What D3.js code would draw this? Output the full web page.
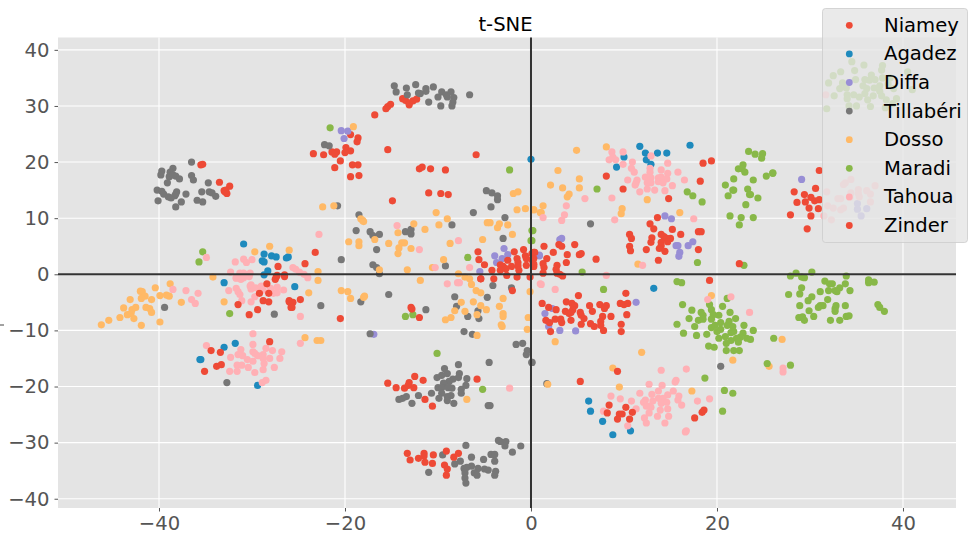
<!DOCTYPE html>
<html><head><meta charset="utf-8">
<script src="https://cdn.jsdelivr.net/npm/d3@7"></script>
<style>html,body{margin:0;padding:0;background:#fff}svg{display:block}text{font-family:"DejaVu Sans",sans-serif}</style>
</head><body><div id="c"></div>
<script>
const names=["Niamey","Agadez","Diffa","Tillabéri","Dosso","Maradi","Tahoua","Zinder"];
const colors=["#EE4A36","#1E8ABD","#988ED5","#777777","#FFB966","#88B848","#FFB0B5","#EE4A36"];
const xTicks=[-40,-20,0,20,40];
const yTicks=[-40,-30,-20,-10,0,10,20,30,40];
const niamey=[[-13.8,31.3],[-13.5,31],[-13.1,30.5],[-13.1,30.2],[-12.7,30.9],[-12.3,31.2],[-15.1,30.3],[-15.4,29.9],[-15.6,29.5],[-16.8,28.4],[-19.4,24.9],[-18.6,24.3],[-18.7,23.6],[-19.9,22.6],[-19.4,22],[-20,21.7],[-20.9,21.8],[-21.4,21.8],[-21.1,21.4],[-23.4,21.5],[-22.3,21.3],[-15.4,22.2],[-20.5,20.2],[-21.1,19],[-19.2,19.5],[-18.6,19.5],[-19.4,17.4],[-18.5,17.6],[-5.9,21.3],[-12,18.8],[-11.7,19.1],[-10.8,18.8],[-9.2,18.6],[-11,14.5],[-9.7,14.4],[-8.9,14.2],[-14.9,13.1],[-23.2,3.9],[-24.3,1.9],[31,18.5],[28.3,14.7],[29.4,14.2],[28.6,12.8],[29.5,12.9],[30.6,15.3],[30.1,13.7],[30.5,13.1],[31,13.3],[29.9,11.8],[30.9,11.7],[27.9,10.6],[30.1,10.4],[29.7,8.1]];
const agadez=[[-30.9,5.4],[-28.7,3.6],[-27.9,3.3],[-27.4,3.1],[-26.3,2.9],[-26.1,3.1],[-28.9,2.4],[-28.7,2.2],[-28.3,0.6],[-28.7,-0.1],[-33,-1.5],[-33,-13],[-31.8,-12.3],[-35.6,-15.2],[-35.5,-15.2],[-29.4,-19.8],[-25.4,-2.2],[0,20.5],[10,20.9],[11.7,22.8],[12.3,21.6],[13.6,21.6],[14.6,21.6],[17.1,23],[12.4,20.4],[12.9,19.6],[9.2,19.1],[13.2,-2.5],[6.2,-22.6],[6.4,-24.4],[7.7,-26.2],[8.8,-28.6],[10.7,-27.9]];
const diffa=[[-20.4,25.6],[-19.7,25.5],[-20.1,24.2],[-2.9,4.6],[-2.5,3.5],[-3.9,3.3],[-3.1,2.8],[-3.7,2.1],[-5.5,0.5],[0.9,3.3],[-16.9,-10.7],[14.4,10.4],[15.1,9.9],[3.3,6.4],[3.1,6.2],[0.9,3.4],[15.6,5.1],[15.8,5.1],[16.9,5.1],[17.4,5.8],[16,3.9],[15.9,3.2],[11.3,-5],[2.3,-6.1],[1.5,-7],[1.9,-9.3],[3.1,-10],[4.8,-10.1],[29.1,16.9],[35.1,12.6],[35.1,11.6],[36.1,11.7],[35.5,10.4]];
const tillaberi=[[-36.5,20],[-38.5,18.9],[-39.7,18.4],[-39.8,17.7],[-38.8,18.2],[-38.9,17.4],[-38.5,17.7],[-38.2,17.5],[-37.8,17],[-39.1,16.3],[-36.5,17.6],[-36.3,16.8],[-34.7,16.3],[-40.2,15],[-39.7,14.8],[-39.5,14.3],[-39,13.8],[-38.7,13.6],[-38.3,14],[-38.1,14.7],[-38.2,14.3],[-37.1,14.3],[-35.4,14.7],[-34.6,14.7],[-34.3,14.5],[-33.9,13.9],[-40.1,13.1],[-37.6,12.9],[-38.2,12],[-35.9,13.2],[-35.3,12.9],[-39.4,-5.9],[-27.6,-7.1],[-32.7,-19.3],[-14.7,33.6],[-13.4,33.2],[-12.4,33.8],[-14.5,32.5],[-13.3,32],[-12.1,32.3],[-11.9,32.2],[-11.3,33.1],[-11.3,32.6],[-10.5,33.4],[-10,31.6],[-9.6,32.5],[-9.1,32],[-9,31.6],[-8.6,32.5],[-8.3,31.5],[-6.6,32],[-11,30.7],[-9.7,30],[-8.4,30.7],[-8.5,30],[-22.2,23.1],[-21.7,22.9],[-4.8,14.9],[-4.2,14.5],[-3.6,14],[-3.6,13.3],[-4.3,12],[-6.2,11],[-2.8,10.1],[-8.5,8.8],[-3,6.4],[-20.8,12.2],[-18.5,10.6],[-18.8,7.8],[-17.3,7.6],[-17,6.9],[-16.3,7.1],[-13.5,7.6],[-12.9,8],[-12.9,7.2],[-16.6,4.4],[-20.4,2.6],[-17,1.7],[-16.6,1.2],[-16.3,0.1],[-9.2,1.5],[-22.6,-5.6],[-18.3,-4.9],[-15.3,-3.6],[-11.3,-6.3],[-8.2,-4],[-8,-5.7],[-4.1,-2],[-2.1,-2.4],[-4.7,-4.1],[-5.7,-6.5],[-6.8,-7.5],[-5.6,-7.9],[-7.2,-10.2],[-6.3,-10.7],[-17.3,-10.6],[-1.6,-12.5],[-0.9,-12.3],[-0.4,-13.6],[-0.5,-14.3],[0.1,-15.7],[-4.5,-15.7],[-7.8,-16.1],[-9.3,-16.8],[-10.1,-18.4],[-9.6,-18],[-9,-17.7],[-7.7,-17.7],[-7.8,-18.4],[-6.9,-18.6],[-8.4,-18.7],[-8.8,-19.1],[-9.4,-19.4],[-10,-20.2],[-9.6,-20.2],[-8.9,-20.2],[-8.5,-20.3],[-7.5,-20.5],[-7,-19.8],[-7.5,-21.2],[-9.6,-21.2],[-8.6,-21.6],[-9,-21.8],[-9.9,-22.1],[-10.7,-21.2],[-12.1,-21.6],[-13.4,-21.8],[-13.8,-22.1],[-14.2,-22.3],[-12.8,-23],[-9,-22.5],[-8.3,-23],[-4.6,-23.4],[-4.4,-23.4],[-7,-30.5],[-3.5,-29.6],[-3.3,-29.8],[-2.7,-29.8],[-2.8,-30.6],[-1.1,-30.6],[-2,-31.7],[-4.3,-32.1],[-3.9,-32.1],[-6.4,-32.6],[-5.1,-33],[-3.9,-33.3],[-7.6,-33.3],[-8.2,-33.8],[-9.5,-32.2],[-6.4,-34.2],[-7.2,-34.6],[-6.9,-34.4],[-5.7,-34.6],[-5,-34.7],[-4.6,-34.9],[-3.8,-35.1],[-3.9,-35.8],[-6.1,-35.4],[-5.8,-35.8],[-7.1,-35.4],[-7.1,-36.3],[-7,-37.2],[-11,-35.3],[6.4,9],[1.7,-19.5],[0.1,-15.7],[20.4,-16.4]];
const dosso=[[-28.1,5],[-29.7,4],[-26,4.3],[-34.2,-0.5],[-46.2,-9],[-45.4,-8.2],[-44.2,-7.7],[-43.8,-6],[-43.1,-4.5],[-43.4,-7.2],[-43,-7],[-42.7,-7.9],[-42.9,-6.3],[-42.5,-5.9],[-42,-3],[-41.8,-3.1],[-41.5,-3.9],[-41.9,-4.3],[-41.4,-5.9],[-41,-6.1],[-40.8,-6.8],[-40.8,-4.5],[-41.9,-9.1],[-39.9,-8.5],[-40.4,-2.4],[-39.9,-3.8],[-39.2,-3.7],[-38.9,-3.9],[-38.8,-1.7],[-37.6,-5],[-33,-4.9],[-19.1,26.3],[-1.9,14.4],[-1.4,14.7],[-1.5,11.5],[-0.6,11.7],[0.3,11.5],[1,11],[-22.4,12],[-21.2,12.2],[-18.3,9.9],[-18.1,9.6],[-18,9.4],[-10.2,11],[-9,9.9],[-12.6,9],[-9.9,8.8],[-11.4,8],[-14.3,7.4],[-4.7,9.2],[-4.4,9.2],[-3.4,9],[-3.6,8.3],[-2.5,8.8],[-2,7.1],[-5.2,6.2],[-8.7,5.5],[-19.6,5.8],[-18.5,5.8],[-18.5,5.1],[-16.8,6.2],[-15.3,5.5],[-13.9,5.6],[-13.6,5.6],[-14.2,4.7],[-14.3,3.7],[-12.9,4.6],[-9.4,2.6],[-10.6,1.2],[-13.3,0.8],[-16.3,0.8],[-22.9,0.5],[-7.8,0.1],[-22.9,-1.1],[-23.9,-3.3],[-20.4,-2.9],[-19.7,-3.1],[-19.4,-4.3],[-18,-4.1],[-17.9,-3.9],[-11.9,-1.1],[-7.1,-0.5],[-6.6,-0.8],[-6.4,-1.8],[-5.9,-2.9],[-5.4,-3.3],[-3,-4.3],[-0.1,-3.1],[-7.5,-5],[-6.2,-4.9],[-5.4,-5.6],[-3.4,-5.7],[-8.2,-6.5],[-7.1,-6.6],[-4.8,-6.3],[-5.8,-7.2],[-8.6,-7.7],[-9.2,-8.1],[-3,-7],[-3,-7.5],[-3.2,-9],[-3.1,-9.3],[-0.3,-7.7],[-0.4,-9.8],[-5.8,-10.9],[-6.9,-22.3],[-24.3,-11.3],[-23,-11.8],[-22.6,-11.8],[4.9,22.1],[8.1,22.7],[2.9,18.5],[5.2,17],[2.1,15.9],[3.4,15.4],[5.2,15.4],[4.1,14.3],[3.9,13.8],[12.5,13.3],[1.3,12.2],[0.3,11.5],[1.1,11],[9.8,11.7],[9.7,10.8],[16,11],[11.5,1.8],[2.6,-12],[11.9,-13.9],[19.4,-3.8],[8.8,-16.7],[1.8,-19.6],[9.5,-20.1],[17.3,-20.8],[21.7,-15.3],[25.6,-16.4],[27,-11.6]];
const maradi=[[-35.3,4],[-35.7,2.2],[-32.4,-7],[-21.6,26.1],[-2.3,18.6],[0.1,7.8],[0,6],[-6.8,3],[-13.5,-7.5],[-12.7,-7.2],[-10.1,-14.1],[-5.2,-20.5],[7.1,15.2],[5.5,0.4],[0.2,7.8],[0.1,6],[22.9,1.6],[17.9,2.1],[23.4,21.9],[24.1,21.4],[24.9,21.5],[24.8,20.7],[22.8,19.5],[22.3,18.8],[22.7,18.8],[23,18.2],[25.3,17.5],[26,18],[21.8,17],[23.9,16.8],[20.9,15.9],[21.7,15],[21.8,15],[23.3,15.2],[21.2,14],[23.5,14.2],[23.6,14.2],[24.4,13.6],[23.1,12.4],[21.4,10.4],[22.6,10.1],[23.9,10.1],[22.4,8.8],[16.8,14.7],[17.4,14],[18.4,12.9],[7.8,-2.7],[15.7,-1.3],[16.2,-1.5],[18.7,-18.5],[20.8,-20.7],[21.7,-21.2],[20.6,-24.4],[25.4,-15.9],[26.1,-11.4],[21.1,-4.3],[20.6,-5.7],[19.2,-5.4],[16.3,-5.4],[17.3,-6.4],[19.4,-6.3],[18.3,-6.8],[18.5,-7.3],[19.6,-7.2],[20.2,-7.3],[21.4,-6.8],[22,-7.9],[17,-7.9],[18,-8.2],[18.5,-8],[19.4,-8],[20.4,-8.6],[21.3,-8.4],[15.7,-8.9],[17.6,-9.3],[19.4,-9.5],[19.8,-9.1],[20.4,-9.8],[21.1,-9.1],[21.7,-9.3],[22.9,-9.1],[20,-10.2],[21.5,-10.4],[21.8,-10.2],[23.9,-10],[16.4,-10.5],[17.8,-10.9],[18.9,-10.7],[20.9,-11.1],[20.2,-11.4],[22.8,-10.5],[22.5,-11.2],[22.1,-11.4],[23.2,-11.4],[23.6,-11.6],[21.5,-11.8],[21,-12.3],[22.3,-12.1],[19.1,-12.8],[19.7,-13],[21,-13.6],[21.8,-13.6],[22.4,-13.6],[27.9,-0.3],[28.5,0.2],[30.2,0.4],[29.1,-0.5],[29.4,-0.6],[33.9,-0.3],[31.6,-1.2],[32.1,-1.7],[32.4,-1.7],[33.8,-1.7],[33.2,-2.4],[29.1,-2.4],[27.7,-3.6],[28.9,-3.5],[31.1,-3.1],[32,-2.9],[32.7,-2.9],[32.9,-3.1],[34.3,-2.9],[30.2,-4],[29.8,-4.7],[31.9,-4.5],[28.9,-5.6],[31.1,-5.6],[31.4,-5.6],[30.9,-5.9],[32.8,-5.6],[33.8,-5.6],[32.7,-6.1],[32.7,-6.6],[29.9,-6.5],[30.4,-7.5],[28.8,-7.7],[29.2,-7.6],[29.4,-8.2],[32.2,-8.2],[33.2,-8.2],[33.9,-7.5],[34.2,-7.4],[36.3,-1],[36.3,-1.5],[36.9,-1.4],[37.3,-5.4],[37.5,-5.9],[38,-6.6],[27.9,-16.2],[26,18.1],[34.5,37.9],[35.8,37.3],[33.3,36.1],[32.5,35.4],[34.8,36.3],[37.8,37.2],[37.7,36.4],[36.6,35.5],[32,34.1],[33.5,34.1],[34.9,34.7],[35.9,34.7],[36.4,34.6],[37,34.7],[37.8,35],[38.6,35],[40.5,36.1],[33.2,33.1],[33.9,33.2],[35.7,33.6],[37.5,33.6],[38.4,33.9],[36.1,33.1],[36.9,33.2],[37.5,32.6],[39,33.1],[41,32.9],[32.6,31.8],[34,32],[34,31.3],[34.7,32],[35.3,31.6],[36.2,31.1],[36.8,31.8],[35.9,32.2],[37.7,31.8],[38.2,31.1],[39.3,31.3],[31.8,29.5],[34.2,30],[35,30],[36.5,29.9],[38.1,29.7],[38.9,30.4]];
const tahoua=[[-34.9,3],[-31.8,2.2],[-30.9,2.7],[-30.6,2.1],[-30,2.6],[-32.3,0.4],[-31.3,0.2],[-30.9,0.2],[-30.2,0.2],[-31.7,-0.7],[-31.1,-0.7],[-38.5,-2.7],[-37.1,-2.9],[-35.8,-3.4],[-36.5,-4.5],[-36.1,-5.2],[-32.5,-2.9],[-31.7,-2.5],[-31.5,-3.1],[-31.3,-3.6],[-31.1,-4.7],[-30.1,-4.9],[-30.2,-2.1],[-30.1,-2.6],[-29.6,-2.4],[-29,-2.1],[-30.1,-1.9],[-31.7,-0.6],[-31.2,-0.9],[-30.9,-0.6],[-30.3,-0.4],[-29.7,-4],[-28.8,-2.8],[-28,-2.5],[-27.3,-2.3],[-26.6,-2.8],[-27.3,-3.3],[-27.7,-3.4],[-34.9,-12.7],[-29.9,-10.6],[-29.9,-12.5],[-31.2,-13.4],[-31.5,-14.3],[-32.3,-14.8],[-31,-14.5],[-30.5,-15.2],[-29.9,-13.8],[-29.7,-14.1],[-29.9,-15.5],[-29.4,-14.5],[-28.8,-14.3],[-28.8,-15],[-28.5,-13.2],[-27.8,-13.6],[-28.1,-15],[-26.8,-13.8],[-27,-15],[-28.7,-15.9],[-27.6,-16.6],[-28.8,-17],[-29.7,-17.5],[-30.4,-16.6],[-31.1,-16.2],[-31.6,-16.2],[-31.6,-17.3],[-32.4,-17.3],[-28.9,-19.3],[-28.5,-18.9],[-14.4,8.7],[-22.8,7.1],[-12,4.4],[-7.8,6],[-6.6,1.2],[-10.3,1.2],[-25.6,1.2],[-25.3,0.9],[-24.9,0.4],[-24.4,0],[-24,-0.6],[-9,-1.7],[-7.9,-1.5],[-7.7,-1.5],[-24.8,-7.5],[-24.8,-12.3],[-2.3,-20.3],[1,-1.7],[8.7,21.8],[9.9,21.8],[8.8,20.9],[8.4,20.4],[9.1,20.4],[9.9,19.6],[10.9,20],[12.9,21.1],[14.7,19.8],[10.8,18.9],[11.1,18.2],[12.8,18.9],[12.8,18.2],[14,18.6],[15.8,18.2],[14.7,18],[12.3,17.3],[12.9,17.2],[14,17.3],[14.6,17],[13.7,17.2],[10.4,16.8],[11.4,16.8],[16.5,16.8],[11.3,16.3],[12.5,16.3],[12.9,16.3],[13.7,16.5],[14.2,16.3],[11.2,15.9],[12.5,15.2],[13.3,15],[15.2,15.8],[14.4,14.9],[11.7,14.7],[8.7,13.6],[5.8,13.5],[3.8,12.2],[3.6,10.6],[1.3,10.1],[3.3,9.6],[9,9.7],[17.5,9.9],[12,1.6],[8.1,-0.2],[1.1,-1.8],[2.6,-2.7],[19,-4.5],[21.5,-4],[23.5,-6.8],[14,-17.1],[16.7,-16.9],[15.6,-18.9],[15.5,-19.2],[12.7,-19.6],[14.1,-19.8],[15.3,-20.8],[11.7,-21.2],[13,-21.4],[13.7,-20.8],[14.7,-21.5],[15.9,-21.7],[8.6,-21.7],[9.6,-22.2],[10.8,-22.6],[12.3,-22.4],[12.1,-22.8],[13.7,-22.1],[14.2,-22.1],[13.1,-22.6],[14,-23],[14.6,-22.8],[15.8,-22.4],[17.9,-22.6],[19.2,-22.2],[16.2,-23.3],[12.4,-23.5],[12.7,-23.5],[12.9,-23.7],[11.3,-24],[14.7,-24],[13.9,-24.2],[12.7,-24.7],[7.8,-24.4],[13.6,-25.3],[14.8,-25.3],[12.2,-25.6],[12.4,-26.5],[14.4,-26.5],[10.4,-27],[16.6,-28.1],[16.7,-27.9],[27.1,-16.7],[27.1,-17.4],[31.7,32],[34.4,16.9],[33.6,16],[33.8,16.3],[31.8,14.7],[37,15.8],[35.2,15.1],[35.2,14.4],[36.1,14.9],[36.5,14.3],[35.3,13.8],[34.4,14.5],[33,13.5],[33.3,13.5],[36.5,12.9],[31.9,12.2],[32.5,11.8],[33.6,11.8],[33.3,11.5],[31.5,10.4],[32.3,9.7],[34.3,13.7]];
const zinder=[[-35.5,19.5],[-35.3,19.6],[-33.5,16.4],[-32.4,15.7],[-33,14.9],[-32.8,15],[-32.7,14.4],[-32.9,14.7],[-27.2,1.4],[-27.4,-0.5],[-26.5,-0.1],[-29.2,-3.4],[-28.4,-1.7],[-28.2,-3.4],[-28.8,-4.7],[-28.2,-4.9],[-31.5,-5.4],[-30.3,-7.2],[-29.4,-6.3],[-27.5,-0.9],[-27.3,-0.2],[-26.5,-0.4],[-26,-4.7],[-25.8,-5.9],[-34.4,-13.6],[-33.4,-13.9],[-28.1,-12],[-33.8,-16.4],[-33.3,-16.1],[-35.1,-17.3],[-5.7,4],[-5.6,2.6],[-5,1.7],[-4.2,0.7],[-5.4,-0.8],[-3.3,1.7],[-3,1.4],[-3.3,0.7],[-2.5,2.5],[-2.1,1.4],[-2.7,1],[-1.8,4],[-1.5,2.8],[-1.4,2.1],[-1.4,1.5],[-1.3,0.7],[-0.8,4.4],[-0.6,3.3],[-0.5,2.8],[0.1,3.7],[0.4,3.9],[0.1,2.6],[-0.5,1.6],[0.3,1.4],[-1.5,-0.5],[-2.6,-0.2],[-4,-0.8],[-0.1,-0.5],[-25.6,-5],[-26,-4.9],[-25.7,-5.9],[-24.8,-4.5],[-20.5,-7.9],[-12.9,-5.9],[-12.8,-6.2],[-12,-7.7],[-5.4,-0.8],[-2,-2.9],[-15.4,-19.4],[-14.5,-20.2],[-13.6,-20.3],[-13.1,-19.3],[-13.2,-19.8],[-12.6,-20.2],[-12.5,-18.2],[-11.6,-18.9],[-11.4,-22.3],[-10.6,-23.5],[-5.8,-18.7],[-13.3,-31.9],[-13,-33.1],[-12.1,-32.8],[-11.5,-31.9],[-11.5,-32.4],[-11.4,-33.5],[-10.6,-33.7],[-10.5,-32.2],[-9.1,-31.5],[-8.3,-32.6],[-7.8,-31.9],[-9.3,-34],[-9,-34.7],[-9.1,-35.8],[8.1,17.5],[9.9,15.2],[18.5,19.8],[19.4,20.2],[18.2,16.6],[14.8,13.5],[13.6,10.1],[12.8,9],[13.2,8.1],[15.2,8],[10.6,7.1],[10.8,6.4],[13,6.5],[12.9,5.7],[16.1,7.1],[18,7.6],[18.3,7.6],[14,7.1],[14.3,6.7],[14.6,6.4],[15,6.4],[14.7,5.8],[14,5.7],[14,5.1],[13.8,4.6],[10.6,5],[10.7,4.2],[12.4,4.4],[14.4,4.1],[18,4.4],[13.7,2.5],[22.4,1.9],[7,2.7],[4.7,5.3],[3,5.3],[3.3,5],[1.4,5],[2.4,3.9],[3.9,3.5],[5.2,3.5],[5.4,3.7],[1.7,2.8],[1.3,1.9],[1.4,1.2],[3.8,2.1],[2.8,1.6],[2.7,0.9],[1.3,0.2],[0.3,3.9],[0.3,2.8],[0.3,1.8],[2.8,0.2],[3.1,0],[3.4,-0.3],[19.2,-1.1],[10.2,-3.4],[5.1,-3.8],[1.2,-5.2],[3.8,-4.9],[1.9,-5.9],[2.7,-6.3],[4.4,-5.2],[4.7,-5.6],[4.5,-6.3],[3.7,-6.6],[4.1,-7],[4.3,-6.8],[5.3,-6.8],[5.4,-7.3],[5.7,-7.9],[4.3,-8.2],[1.6,-8.2],[2,-8.6],[2.6,-8],[3.2,-8],[3.3,-8.6],[2.1,-10.2],[5.4,-8.9],[6.3,-5.6],[6.6,-6.6],[7.4,-5.4],[8.1,-5.6],[7.9,-6.1],[9.6,-5.2],[10,-5.4],[10.4,-5.2],[10.3,-7.2],[8.6,-7.5],[7.7,-7.5],[7.5,-8.4],[7.5,-9.1],[6.4,-8.8],[6.8,-9.3],[7.8,-10],[9.7,-8.9],[9.7,-10.2],[9.3,-17.3],[5.3,-19.1],[8.4,-23.3],[10.2,-23.7],[10.9,-24.6],[8.2,-24.7],[9.5,-24.9],[9.8,-24.9],[9.3,-25.8],[10.6,-25.8],[17.6,-25.6],[18.4,-24.6],[18.6,-24.2]];
const series=[niamey,agadez,diffa,tillaberi,dosso,maradi,tahoua,zinder];

const W=977,H=538,L=58,R=956,T=37.5,B=508,FS="19.6px";
const x=d3.scaleLinear().domain([-50.86,45.7]).range([L,R]);
const y=d3.scaleLinear().domain([-41.65,42.2]).range([B,T]);
const svg=d3.select("#c").append("svg").attr("width",W).attr("height",H);
svg.append("rect").attr("x",L).attr("y",T).attr("width",R-L).attr("height",B-T).attr("fill","#E4E4E4");
const fmt=d=>String(d).replace("-","\u2212");
const gx=svg.append("g").attr("transform",`translate(0,${B})`).call(d3.axisBottom(x).tickValues(xTicks).tickFormat(fmt).tickSize(3.5).tickPadding(5));
const gy=svg.append("g").attr("transform",`translate(${L},0)`).call(d3.axisLeft(y).tickValues(yTicks).tickFormat(fmt).tickSize(3.5).tickPadding(5));
[gx,gy].forEach(g=>{g.select(".domain").remove();g.selectAll("line").attr("stroke","#555").attr("stroke-width",1);g.selectAll("text").attr("fill","#555").style("font-size",FS).style("font-family","'DejaVu Sans'");});
const grid=svg.append("g");
grid.selectAll("v").data(xTicks).join("line").attr("x1",d=>x(d)).attr("x2",d=>x(d)).attr("y1",T).attr("y2",B).attr("stroke","#fff").attr("stroke-width",1.1);
grid.selectAll("h").data(yTicks).join("line").attr("y1",d=>y(d)).attr("y2",d=>y(d)).attr("x1",L).attr("x2",R).attr("stroke","#fff").attr("stroke-width",1.1);
series.forEach((s,i)=>{
  svg.append("g").selectAll("circle").data(s).join("circle").attr("cx",d=>x(d[0])).attr("cy",d=>y(d[1])).attr("r",3.6).attr("fill",colors[i]);
});
svg.append("line").attr("x1",L).attr("x2",R).attr("y1",y(0)).attr("y2",y(0)).attr("stroke","#333").attr("stroke-width",2);
svg.append("line").attr("x1",x(0)).attr("x2",x(0)).attr("y1",T).attr("y2",B).attr("stroke","#333").attr("stroke-width",2);
svg.append("text").attr("x",505.5).attr("y",31).attr("text-anchor","middle").attr("fill","#000").style("font-size",FS).text("t-SNE");
svg.append("line").attr("x1",0).attr("x2",4).attr("y1",325).attr("y2",325).attr("stroke","#444").attr("stroke-width",1);
const lg=svg.append("g");
lg.append("rect").attr("x",822.5).attr("y",8.5).attr("width",145).attr("height",234).attr("rx",3).attr("fill","#E5E5E5").attr("fill-opacity",0.8).attr("stroke","#CCCCCC").attr("stroke-opacity",0.8);
names.forEach((n,i)=>{
  const ly=25.3+i*28.6;
  lg.append("circle").attr("cx",849.3).attr("cy",ly).attr("r",3.4).attr("fill",colors[i]);
  lg.append("text").attr("x",884).attr("y",ly+6.5).attr("fill","#000").style("font-size",FS).text(n);
});
</script></body></html>
